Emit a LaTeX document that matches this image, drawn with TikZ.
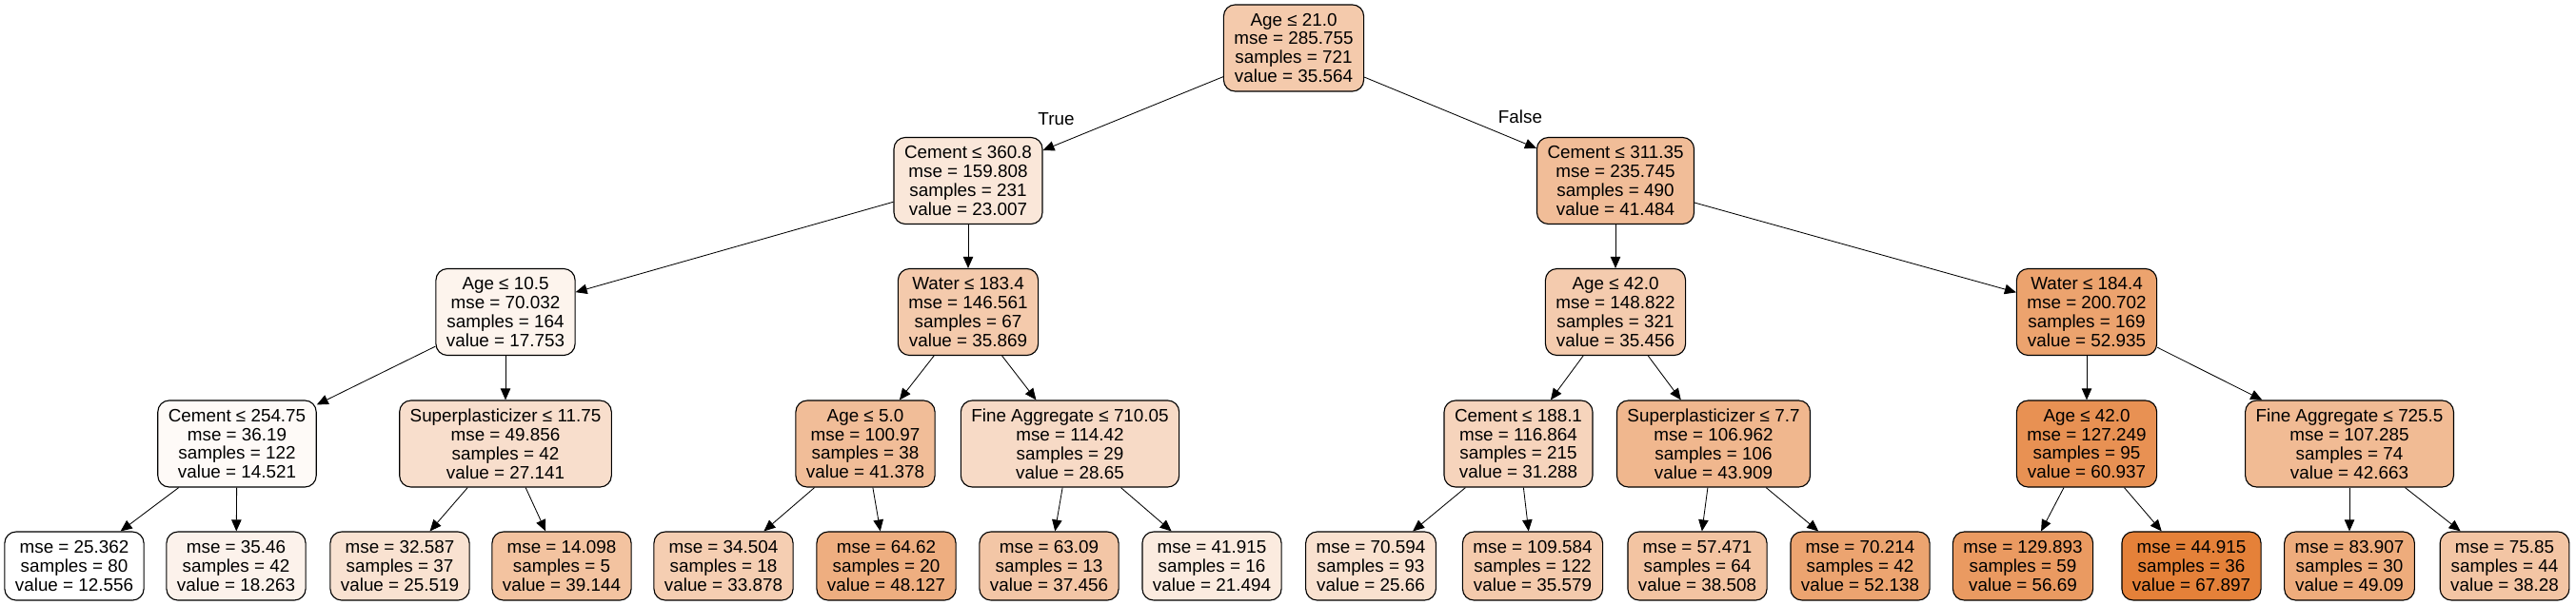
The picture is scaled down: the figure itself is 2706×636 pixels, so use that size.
\documentclass[tikz,border=0pt]{standalone}
\usepackage{fontspec}
\setmainfont{Liberation Sans}
\usetikzlibrary{arrows.meta}
\definecolor{tree}{RGB}{229,129,57}

\begin{document}
\begin{tikzpicture}[x=0.025cm, y=-0.025cm, >={Triangle[length=0.3cm, width=0.26cm]},
      font=\fontsize{13.4}{14.2}\selectfont,
      split/.style={draw, line width=0.8pt, rounded corners=0.3cm, align=center,
        fill=tree!#1, inner xsep=0.275cm, inner ysep=0pt, minimum height=2.275cm},
      leaf/.style={split=#1, minimum height=1.8cm},
      edge/.style={->, line width=0.6pt}]
    \useasboundingbox (0,0) rectangle (2706,636);
    % level 1 and 2
    \node[split=42] (root) at (1359,50.5) {Age ≤ 21.0\\mse = 285.755\\samples = 721\\value = 35.564};
    \node[split=19] (cem3608) at (1017,190) {Cement ≤ 360.8\\mse = 159.808\\samples = 231\\value = 23.007};
    \node[split=52] (cem3113) at (1697,190) {Cement ≤ 311.35\\mse = 235.745\\samples = 490\\value = 41.484};
    % level 3
    \node[split=9] (age105) at (531,328) {Age ≤ 10.5\\mse = 70.032\\samples = 164\\value = 17.753};
    \node[split=42] (wat1834) at (1017,328) {Water ≤ 183.4\\mse = 146.561\\samples = 67\\value = 35.869};
    \node[split=41] (age420) at (1697,328) {Age ≤ 42.0\\mse = 148.822\\samples = 321\\value = 35.456};
    \node[split=73] (wat1844) at (2192,328) {Water ≤ 184.4\\mse = 200.702\\samples = 169\\value = 52.935};
    % level 4
    \node[split=4] (cem2547) at (249,466.5) {Cement ≤ 254.75\\mse = 36.19\\samples = 122\\value = 14.521};
    \node[split=26] (sup1175) at (531,466.5) {Superplasticizer ≤ 11.75\\mse = 49.856\\samples = 42\\value = 27.141};
    \node[split=52] (age50) at (909,466.5) {Age ≤ 5.0\\mse = 100.97\\samples = 38\\value = 41.378};
    \node[split=29] (fag7100) at (1124,466.5) {Fine Aggregate ≤ 710.05\\mse = 114.42\\samples = 29\\value = 28.65};
    \node[split=34] (cem1881) at (1595,466.5) {Cement ≤ 188.1\\mse = 116.864\\samples = 215\\value = 31.288};
    \node[split=57] (sup77) at (1800,466.5) {Superplasticizer ≤ 7.7\\mse = 106.962\\samples = 106\\value = 43.909};
    \node[split=87] (age420b) at (2192,466.5) {Age ≤ 42.0\\mse = 127.249\\samples = 95\\value = 60.937};
    \node[split=54] (fag7255) at (2468,466.5) {Fine Aggregate ≤ 725.5\\mse = 107.285\\samples = 74\\value = 42.663};
    % leaves
    \node[leaf=0] (l1) at (78,595) {mse = 25.362\\samples = 80\\value = 12.556};
    \node[leaf=10] (l2) at (248,595) {mse = 35.46\\samples = 42\\value = 18.263};
    \node[leaf=23] (l3) at (420,595) {mse = 32.587\\samples = 37\\value = 25.519};
    \node[leaf=48] (l4) at (590,595) {mse = 14.098\\samples = 5\\value = 39.144};
    \node[leaf=39] (l5) at (760,595) {mse = 34.504\\samples = 18\\value = 33.878};
    \node[leaf=64] (l6) at (931,595) {mse = 64.62\\samples = 20\\value = 48.127};
    \node[leaf=45] (l7) at (1102,595) {mse = 63.09\\samples = 13\\value = 37.456};
    \node[leaf=16] (l8) at (1273,595) {mse = 41.915\\samples = 16\\value = 21.494};
    \node[leaf=24] (l9) at (1440,595) {mse = 70.594\\samples = 93\\value = 25.66};
    \node[leaf=42] (l10) at (1610,595) {mse = 109.584\\samples = 122\\value = 35.579};
    \node[leaf=47] (l11) at (1783,595) {mse = 57.471\\samples = 64\\value = 38.508};
    \node[leaf=72] (l12) at (1954,595) {mse = 70.214\\samples = 42\\value = 52.138};
    \node[leaf=80] (l13) at (2125,595) {mse = 129.893\\samples = 59\\value = 56.69};
    \node[leaf=100] (l14) at (2302,595) {mse = 44.915\\samples = 36\\value = 67.897};
    \node[leaf=66] (l15) at (2468,595) {mse = 83.907\\samples = 30\\value = 49.09};
    \node[leaf=46] (l16) at (2631,595) {mse = 75.85\\samples = 44\\value = 38.28};
    % branch labels
    \node (lbltrue) at (1109.5,125) {True};
    \node (lblfalse) at (1597,123) {False};
    % edges
    \draw[edge] (root) -- (cem3608);
    \draw[edge] (root) -- (cem3113);
    \draw[edge] (cem3608) -- (age105);
    \draw[edge] (cem3608) -- (wat1834);
    \draw[edge] (cem3113) -- (age420);
    \draw[edge] (cem3113) -- (wat1844);
    \draw[edge] (age105) -- (cem2547);
    \draw[edge] (age105) -- (sup1175);
    \draw[edge] (wat1834) -- (age50);
    \draw[edge] (wat1834) -- (fag7100);
    \draw[edge] (age420) -- (cem1881);
    \draw[edge] (age420) -- (sup77);
    \draw[edge] (wat1844) -- (age420b);
    \draw[edge] (wat1844) -- (fag7255);
    \draw[edge] (cem2547) -- (l1);
    \draw[edge] (cem2547) -- (l2);
    \draw[edge] (sup1175) -- (l3);
    \draw[edge] (sup1175) -- (l4);
    \draw[edge] (age50) -- (l5);
    \draw[edge] (age50) -- (l6);
    \draw[edge] (fag7100) -- (l7);
    \draw[edge] (fag7100) -- (l8);
    \draw[edge] (cem1881) -- (l9);
    \draw[edge] (cem1881) -- (l10);
    \draw[edge] (sup77) -- (l11);
    \draw[edge] (sup77) -- (l12);
    \draw[edge] (age420b) -- (l13);
    \draw[edge] (age420b) -- (l14);
    \draw[edge] (fag7255) -- (l15);
    \draw[edge] (fag7255) -- (l16);
\end{tikzpicture}
\end{document}
